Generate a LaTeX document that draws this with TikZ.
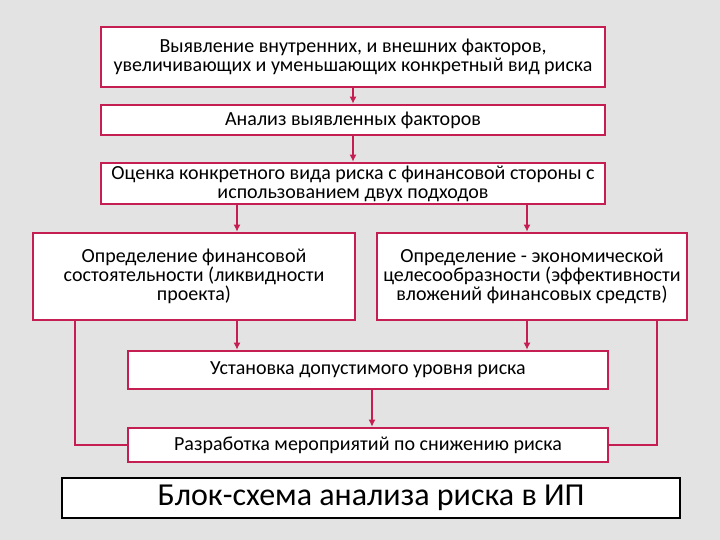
\documentclass[tikz,border=0pt]{standalone}
\usepackage{fontspec}
\setmainfont{Carlito}
\begin{document}
\begin{tikzpicture}[x=1pt,y=-1pt,
 bx/.style={draw=crim,line width=2.6pt,fill=white,inner sep=0pt,align=center,font=\fontsize{20}{19}\selectfont},
 ar/.style={draw=crim,line width=2.6pt,-{Latex[length=7pt,width=7pt]}},
 ln/.style={draw=crim,line width=2.6pt}]
\definecolor{crim}{HTML}{C41E52}
\usetikzlibrary{arrows.meta}
\fill[gray!22] (0,0) rectangle (720,540);
\useasboundingbox (0,0) rectangle (720,540);
\node[bx,minimum width=504,minimum height=60] (b1) at (353,57) {Выявление внутренних, и внешних факторов,\\ увеличивающих и уменьшающих конкретный вид риска};
\node[bx,minimum width=504,minimum height=30] (b2) at (353,120) {Анализ выявленных факторов};
\node[bx,minimum width=504,minimum height=41] (b3) at (353,183.5) {Оценка конкретного вида риска с финансовой стороны с\\ использованием двух подходов};
\node[bx,minimum width=322,minimum height=87] (b4) at (194,276.5) {Определение финансовой\\ состоятельности (ликвидности\\ проекта)};
\node[bx,minimum width=310,minimum height=87] (b5) at (532,276.5) {Определение -  экономической\\ целесообразности (эффективности\\ вложений финансовых средств)};
\node[bx,minimum width=480,minimum height=38] (b6) at (368,370) {Установка допустимого  уровня риска};
\node[bx,minimum width=480,minimum height=34] (b7) at (368,445) {Разработка мероприятий по снижению риска};
\node[draw=black,line width=2.6pt,fill=white,minimum width=618,minimum height=40,inner sep=0pt,font=\fontsize{32}{34}\selectfont] (t) at (371,498) {Блок-схема анализа риска в ИП};
\draw[ar] (b1.south -| 353,0) -- (b2.north -| 353,0);
\draw[ar] (b2.south -| 353,0) -- (b3.north -| 353,0);
\draw[ar] (b3.south -| 237,0) -- (b4.north -| 237,0);
\draw[ar] (b3.south -| 527,0) -- (b5.north -| 527,0);
\draw[ar] (b4.south -| 237,0) -- (b6.north -| 237,0);
\draw[ar] (b5.south -| 527,0) -- (b6.north -| 527,0);
\draw[ar] (b6.south -| 372,0) -- (b7.north -| 372,0);
\draw[ln] (b4.south -| 75,0) |- (b7.west);
\draw[ln] (b5.south -| 657,0) |- (b7.east);
\end{tikzpicture}
\end{document}
